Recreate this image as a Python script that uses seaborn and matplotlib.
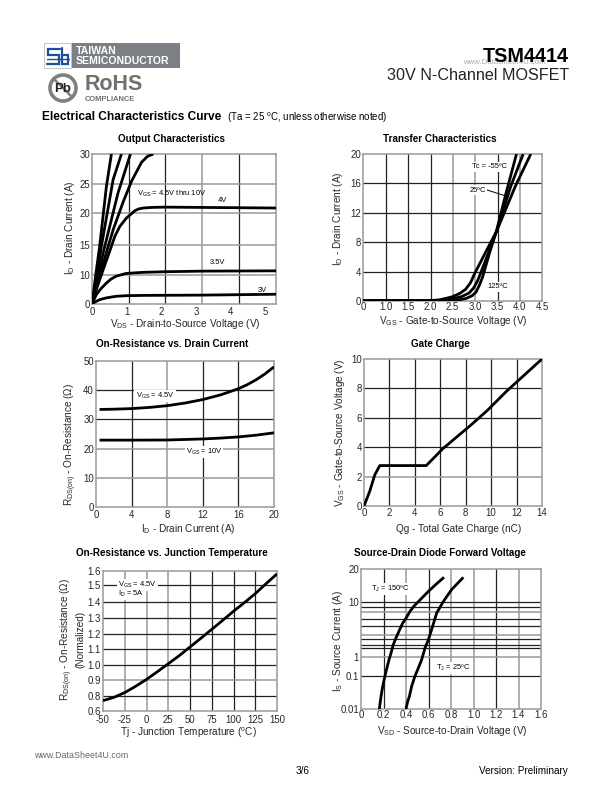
import numpy as np
import seaborn as sns
import matplotlib.pyplot as plt
from matplotlib.patches import Rectangle, Circle
from matplotlib.lines import Line2D
from matplotlib.transforms import Affine2D

# Output characteristics
out_x_ticks = [0, 1, 2, 3, 4, 5]
out_y_ticks = [0, 10, 15, 20, 25, 30]
out_x_a = [0, 0.106, 0.22, 0.415, 0.56]
out_y_a = [0, 10, 14.8, 24.5, 30]
out_x_b = [0, 0.145, 0.27, 0.61, 0.85]
out_y_b = [0, 10, 14.8, 25.7, 30]
out_x_c = [0, 0.19, 0.32, 0.75, 1.11]
out_y_c = [0, 10, 13.7, 23.4, 30]
out_x_d = [0, 0.125, 0.27, 0.45, 0.61, 0.9, 1.14, 1.43, 1.6, 1.77]
out_y_d = [0, 6.2, 10.9, 14.5, 17.4, 21.9, 25.4, 28.6, 29.6, 30]
out_x_4v = [0, 0.125, 0.32, 0.51, 0.66, 0.8, 0.99, 1.14, 1.24, 1.35, 1.48, 1.72, 2.11, 3.17, 5.31]
out_y_4v = [0, 5, 10.9, 14, 16.4, 17.9, 19.2, 19.9, 20.4, 20.7, 20.85, 20.95, 21, 20.95, 20.85]
out_x_35v = [0, 0.125, 0.27, 0.415, 0.55, 0.7, 0.85, 0.97, 1.2, 1.48, 2.11, 3.17, 5.31]
out_y_35v = [0, 3.3, 5.5, 7.3, 8.7, 9.7, 10.1, 10.3, 10.4, 10.5, 10.6, 10.7, 10.75]
out_x_3v = [0, 0.1, 0.22, 0.4, 0.7, 1.0, 1.48, 3.17, 5.31]
out_y_3v = [0, 0.8, 1.5, 2.1, 2.7, 2.9, 3.0, 3.1, 3.4]

# Transfer characteristics
tr_x_ticks = [0, 1.0, 1.5, 2.0, 2.5, 3.0, 3.5, 4.0, 4.5]
tr_y_ticks = [0, 4, 8, 12, 16, 20]
tr_x_m55 = [0, 1.97, 2.3, 2.64, 2.8, 2.93, 3.02, 3.1, 3.17, 3.32, 3.48, 3.69, 3.93]
tr_y_m55 = [0.05, 0.05, 0.05, 0.15, 0.35, 0.7, 1.2, 2.2, 3.3, 6.5, 9.6, 14.6, 20]
tr_x_25 = [0, 1.97, 2.2, 2.49, 2.7, 2.87, 2.97, 3.06, 3.2, 3.32, 3.48, 3.80, 4.08]
tr_y_25 = [0.05, 0.05, 0.1, 0.3, 0.6, 1.1, 1.8, 2.8, 5.0, 6.9, 9.5, 15.6, 20]
tr_x_125 = [0, 1.97, 2.2, 2.48, 2.65, 2.79, 2.9, 2.98, 3.24, 3.48, 3.91, 4.25]
tr_y_125 = [0.05, 0.05, 0.15, 0.55, 1.0, 1.6, 2.5, 3.6, 6.7, 9.5, 15.7, 20]

# On-resistance vs drain current
rd_x_ticks = [0, 4, 8, 12, 16, 20]
rd_y_ticks = [0, 10, 20, 30, 40, 50]
rd_id_45 = [0.4, 2, 4, 6, 8, 10, 12, 14, 16, 17, 18, 19, 20]
rd_r_45 = [33.4, 33.5, 33.7, 34.1, 34.7, 35.6, 36.8, 38.4, 40.5, 41.9, 43.6, 45.6, 48]
rd_id_10 = [0.4, 4, 8, 12, 14, 16, 18, 20]
rd_r_10 = [22.9, 22.9, 22.95, 23.3, 23.6, 24.0, 24.6, 25.4]

# Gate charge
gc_x_ticks = [0, 2, 4, 6, 8, 10, 12, 14]
gc_y_ticks = [0, 2, 4, 6, 8, 10]
gc_q = [0, 0.45, 0.84, 1.24, 4.9, 6.2, 8.4, 9.7, 11.2, 14]
gc_v = [0, 1.0, 2.1, 2.75, 2.75, 3.9, 5.5, 6.5, 7.8, 10]

# On-resistance vs temperature
rt_x_ticks = [-50, -25, 0, 25, 50, 75, 100, 125, 150]
rt_y_ticks = [0.6, 0.8, 0.9, 1.0, 1.1, 1.2, 1.3, 1.4, 1.5, 1.6]
rt_t = [-50, -37.5, -25, -12.5, 0, 12.5, 25, 37.5, 50, 62.5, 75, 87.5, 100, 112.5, 125, 137.5, 150]
rt_r = [0.735, 0.778, 0.82, 0.861, 0.906, 0.955, 1.006, 1.057, 1.113, 1.17, 1.227, 1.283, 1.34, 1.394, 1.449, 1.512, 1.58]

# Source-drain diode
sd_x_ticks = [0, 0.2, 0.4, 0.6, 0.8, 1.0, 1.2, 1.4, 1.6]
sd_y_ticks = [0.01, 0.1, 1, 10, 20]
sd_y_grid = [0.1, 1, 2, 3, 4, 5, 6, 7, 8, 9, 10]
sd_v_150 = [0.163, 0.178, 0.193, 0.213, 0.234, 0.249, 0.267, 0.287, 0.311, 0.341, 0.37, 0.4, 0.436, 0.474, 0.519, 0.599, 0.673, 0.738]
sd_i_150 = [0.01, 0.0242, 0.0486, 0.1, 0.33, 0.75, 1.38, 3, 4.15, 5.5, 6.4, 7.1, 8.2, 9.3, 10.3, 12.5, 14.7, 16.8]
sd_v_25 = [0.4, 0.415, 0.43, 0.45, 0.48, 0.51, 0.539, 0.569, 0.599, 0.628, 0.673, 0.732, 0.806, 0.91]
sd_i_25 = [0.01, 0.017, 0.024, 0.0486, 0.1, 0.27, 0.75, 2, 3.8, 5.6, 7.9, 10.1, 13, 16.8]

DARK = '#222222'
GREY = '#999999'
BLUE = '#1a4fa0'
LW = 2.0

sns.set_style('white')
plt.rcParams['font.family'] = 'Liberation Sans'
plt.rcParams['mathtext.fontset'] = 'custom'
plt.rcParams['mathtext.rm'] = 'Liberation Sans'
plt.rcParams['mathtext.default'] = 'regular'

fig = plt.figure(figsize=(6.12, 7.92), dpi=100)
# page pixels, y going down
page = Affine2D().scale(1 / 612, -1 / 792).translate(0, 1) + fig.transFigure


def put(x, y, s, size=5.5, ha='center', weight='normal', color='black', mask=False, **kw):
    t = fig.text(x, y, s, transform=page, fontsize=size, ha=ha, va='center',
                 fontweight=weight, color=color, **kw)
    if mask:
        t.set_bbox(dict(facecolor='white', edgecolor='none', pad=0.8))
    return t


def make_axes(left, top, right, bottom):
    ax = fig.add_axes([left / 612, 1 - bottom / 792, (right - left) / 612, (bottom - top) / 792])
    ax.box = (left, top, right, bottom)
    return ax


def stepped(ax, which, values, cells):
    # the printed axes are not uniform, ticks sit on equal cells
    fwd = lambda v: np.interp(v, values, cells)
    inv = lambda p: np.interp(p, cells, values)
    if which == 'x':
        ax.set_xscale('function', functions=(fwd, inv))
    else:
        ax.set_yscale('function', functions=(fwd, inv))


def finish(ax, title, title_xy, xlabel, xlabel_xy, ylabel, ylabel_xy, xticks, yticks, xtl=None, ytl=None, xpad=2):
    l, t, r, b = ax.box
    ax.set_xticks(xticks, xtl if xtl else [str(v) for v in xticks])
    ax.set_yticks(yticks, ytl if ytl else [str(v) for v in yticks])
    ax.minorticks_off()
    ax.tick_params(length=0, labelsize=6.9, pad=1.5)
    ax.tick_params(axis='x', pad=xpad)
    for side in ax.spines.values():
        side.set_color(GREY)
        side.set_linewidth(1.1)
    ax.set_xlabel(xlabel, fontsize=7.2, va='center')
    ax.set_ylabel(ylabel, fontsize=7.2, va='center', linespacing=0.95)
    ax.xaxis.set_label_coords((xlabel_xy[0] - l) / (r - l), (b - xlabel_xy[1]) / (b - t))
    ax.yaxis.set_label_coords((ylabel_xy[0] - l) / (r - l), (b - ylabel_xy[1]) / (b - t))
    put(title_xy[0], title_xy[1], title, size=7.1, weight='bold')


def curve(ax, x, y, lw=LW):
    sns.lineplot(x=x, y=y, ax=ax, color='black', linewidth=lw, sort=False,
                 estimator=None, errorbar=None, zorder=5, solid_capstyle='butt')


def grid(ax, xs, xcols, ys, ycols):
    for v, c in zip(xs, xcols):
        ax.axvline(v, color=DARK if c == 'd' else GREY, lw=0.9 if c == 'd' else 1.1, zorder=1)
    for v, c in zip(ys, ycols):
        ax.axhline(v, color=DARK if c == 'd' else GREY, lw=0.9 if c == 'd' else 1.1, zorder=1)


def mark(points, color=BLUE, lw=2.0):
    xs = [40 + p[0] / 3 for p in points]
    ys = [38 + p[1] / 3 for p in points]
    fig.add_artist(Line2D(xs, ys, transform=page, color=color, lw=lw, solid_joinstyle='miter'))


# --- page header ---
fig.add_artist(Rectangle((44, 43), 27, 25, transform=page, fc='white', ec='#bbbbbb', lw=0.6))
fig.add_artist(Rectangle((72, 43), 108, 25, transform=page, fc='#7a8085', ec='none'))
mark([(60, 33), (25, 33), (25, 50), (58, 50), (58, 78), (22, 78)], lw=1.6)
mark([(66, 30), (66, 78), (85, 78), (85, 50), (66, 50)], lw=1.6)
mark([(22, 64), (88, 64)], lw=1.0)
put(76, 50.5, 'TAIWAN', size=7.6, ha='left', weight='bold', color='white')
put(76, 61, 'SEMICONDUCTOR', size=7.6, ha='left', weight='bold', color='white')
fig.add_artist(Circle((63, 88), 13, transform=page, fc='white', ec='#808080', lw=2.6))
fig.add_artist(Line2D([54, 72], [79, 97], transform=page, color='#808080', lw=1.8))
put(63, 89, 'Pb', size=9.5, weight='bold', color='#222222', zorder=6)
put(85, 85, 'RoHS', size=15.5, ha='left', weight='bold', color='#707070')
put(85, 99.5, 'COMPLIANCE', size=5.4, ha='left', weight='bold', color='#707070')
put(463, 62, 'www.DataSheet4U.com', size=5.6, ha='left', color='#aaaaaa')
put(569, 56, 'TSM4414', size=14.2, ha='right', weight='bold')
put(569, 76, '30V N-Channel MOSFET', size=11.6, ha='right', color='#222222')
put(42, 117, 'Electrical Characteristics Curve', size=8.6, ha='left', weight='bold')
put(227, 118, '(Ta = 25 $^{o}$C, unless otherwise noted)', size=7, ha='left')

# --- output characteristics ---
ax = make_axes(92, 154, 276, 304)
grid(ax, [1.06, 2.12, 3.18, 4.24], 'ddgd', [10, 15, 20, 25], 'gggg')
for xs, ys in [(out_x_a, out_y_a), (out_x_b, out_y_b), (out_x_c, out_y_c), (out_x_d, out_y_d),
               (out_x_4v, out_y_4v), (out_x_35v, out_y_35v), (out_x_3v, out_y_3v)]:
    curve(ax, xs, ys)
stepped(ax, 'y', out_y_ticks, [0, 86, 176, 273, 361, 450])
ax.set_xlim(0, 5.31)
ax.set_ylim(0, 30)
finish(ax, 'Output Characteristics', (171, 139), 'V$_{DS}$ - Drain-to-Source Voltage (V)', (185, 324),
       'I$_{D}$ - Drain Current (A)', (70, 228), out_x_ticks, out_y_ticks, xpad=2)
put(137, 194, 'V$_{GS}$ = 4.5V thru 10V', size=5.4, ha='left')
put(222, 201, '4V', size=5.4)
put(217, 263, '3.5V', size=5.4)
put(262, 290, '3V', size=5.4)

# --- transfer characteristics ---
ax = make_axes(363, 154, 542, 301)
grid(ax, tr_x_ticks[1:-1], 'dddggdg', tr_y_ticks[1:-1], 'dddd')
curve(ax, tr_x_m55, tr_y_m55)
curve(ax, tr_x_25, tr_y_25)
curve(ax, tr_x_125, tr_y_125)
stepped(ax, 'x', tr_x_ticks, [0, 70, 135, 202, 268, 335, 402, 468, 535])
ax.set_xlim(0, 4.5)
ax.set_ylim(0, 20)
finish(ax, 'Transfer Characteristics', (440, 139), 'V$_{GS}$ - Gate-to-Source Voltage (V)', (453, 321),
       'I$_{D}$ - Drain Current (A)', (338, 219), tr_x_ticks, tr_y_ticks,
       xtl=['0', '1.0', '1.5', '2.0', '2.5', '3.0', '3.5', '4.0', '4.5'], xpad=0.5)
put(490, 167, 'Tc = -55ºC', size=5.4, mask=True)
put(478, 190, '25ºC', size=5.4, mask=True)
fig.add_artist(Line2D([487, 506], [190, 196], transform=page, color='black', lw=0.7))
put(498, 287, '125ºC', size=5.4, mask=True)

# --- on-resistance vs drain current ---
ax = make_axes(96, 361, 274, 507)
grid(ax, rd_x_ticks[1:-1], 'dgdd', rd_y_ticks[1:-1], 'ggdd')
curve(ax, rd_id_45, rd_r_45)
curve(ax, rd_id_10, rd_r_10)
ax.set_xlim(0, 20)
ax.set_ylim(0, 50)
finish(ax, 'On-Resistance vs. Drain Current', (172, 344), 'I$_{D}$ - Drain Current (A)', (188, 529),
       'R$_{DS(on)}$ - On-Resistance (Ω)', (71, 444), rd_x_ticks, rd_y_ticks, xpad=2)
put(155, 396, 'V$_{GS}$ = 4.5V', size=5.4, mask=True)
put(204, 452, 'V$_{GS}$ = 10V', size=5.4, mask=True)

# --- gate charge ---
ax = make_axes(364, 359, 542, 506)
grid(ax, gc_x_ticks[1:-1], 'dddddd', gc_y_ticks[1:-1], 'gddd')
curve(ax, gc_q, gc_v)
ax.set_xlim(0, 14)
ax.set_ylim(0, 10)
finish(ax, 'Gate Charge', (440, 344), 'Qg - Total Gate Charge (nC)', (459, 529),
       'V$_{GS}$ - Gate-to-Source Voltage (V)', (340, 433), gc_x_ticks, gc_y_ticks, xpad=1.5)

# --- on-resistance vs temperature ---
ax = make_axes(103, 571, 277, 711)
grid(ax, rt_x_ticks[1:-1], 'gggdddd', rt_y_ticks[1:-1], 'dgdddddd')
curve(ax, rt_t, rt_r)
stepped(ax, 'y', rt_y_ticks, [0, 46, 92, 139, 186, 232, 280, 328, 377, 420])
ax.set_xlim(-50, 150)
ax.set_ylim(0.6, 1.6)
finish(ax, 'On-Resistance vs. Junction Temperature', (172, 553), 'Tj - Junction Temperature ($^{o}$C)', (188, 733),
       'R$_{DS(on)}$ - On-Resistance (Ω)\n(Normalized)', (72, 639), rt_x_ticks, rt_y_ticks,
       ytl=['0.6', '0.8', '0.9', '1.0', '1.1', '1.2', '1.3', '1.4', '1.5', '1.6'], xpad=3)
put(118, 585, 'V$_{GS}$ = 4.5V', size=5.4, ha='left', mask=True)
put(118, 594, 'I$_{D}$ = 5A', size=5.4, ha='left', mask=True)

# --- source-drain diode ---
ax = make_axes(361, 569, 541, 709)
grid(ax, sd_x_ticks[1:-1], 'dgdggdg', sd_y_grid, 'dgdddgddgdd')
curve(ax, sd_v_150, sd_i_150)
curve(ax, sd_v_25, sd_i_25)
sd_levels = [0.01, 0.1, 1, 2, 3, 4, 5, 6, 7, 8, 9, 10, 20]
sd_cells = [0, 99, 155, 183, 193, 211, 223, 248, 270, 290, 305, 321, 420]
fwd = lambda v: np.interp(np.log10(v), np.log10(sd_levels), sd_cells)
inv = lambda p: 10 ** np.interp(p, sd_cells, np.log10(sd_levels))
ax.set_yscale('function', functions=(fwd, inv))
ax.set_xlim(0, 1.6)
ax.set_ylim(0.01, 20)
finish(ax, 'Source-Drain Diode Forward Voltage', (440, 553), 'V$_{SD}$ - Source-to-Drain Voltage (V)', (452, 731),
       'I$_{S}$ - Source Current (A)', (338, 641), sd_x_ticks, sd_y_ticks,
       xtl=['0', '0.2', '0.4', '0.6', '0.8', '1.0', '1.2', '1.4', '1.6'], xpad=1)
put(390, 589, 'T$_{J}$ = 150ºC', size=5.4, mask=True)
put(453, 668, 'T$_{J}$ = 25ºC', size=5.4, mask=True)

# --- footer ---
put(34, 756, 'www.DataSheet4U.com', size=6.4, ha='left', color='#666666')
put(303, 771, '3/6', size=7.2)
put(568, 771, 'Version: Preliminary', size=7.2, ha='right')

fig.savefig('out.png', dpi=100)
